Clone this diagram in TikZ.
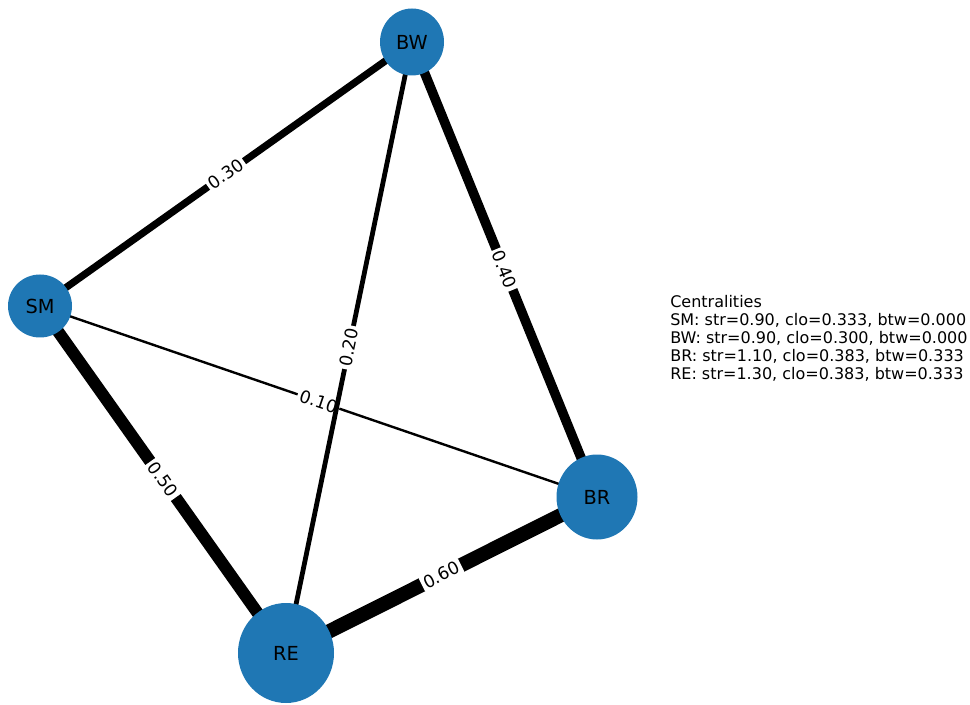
\documentclass[tikz,border=0pt]{standalone}
\usepackage{fontspec}
\setmainfont{DejaVu Sans}
\usetikzlibrary{shapes.geometric,backgrounds}
\definecolor{nodeblue}{HTML}{1F77B4}
\tikzset{
  vtx/.style={ellipse, fill=nodeblue, draw=none, inner sep=0pt, font=\fontsize{14.5}{17}\selectfont, text=black},
  wedge/.style={draw=black, line width=#1*18pt},
  elbl/.style={midway, sloped, fill=white, inner sep=2pt, rounded corners=2pt, font=\fontsize{13}{15}\selectfont, text=black}
}
\begin{document}
\begin{tikzpicture}[x=0.75pt,y=-0.75pt]
\useasboundingbox (0,0) rectangle (970,705);
\node[vtx, minimum width=64*0.75pt, minimum height=67*0.75pt] (BW) at (412,42) {BW};
\node[vtx, minimum width=64*0.75pt, minimum height=63*0.75pt] (SM) at (40,306) {SM};
\node[vtx, minimum width=81*0.75pt, minimum height=85*0.75pt] (BR) at (597,497) {BR};
\node[vtx, minimum width=96*0.75pt, minimum height=100*0.75pt] (RE) at (286,653) {RE};
\begin{pgfonlayer}{background}
\draw[wedge=0.30] (SM.center) -- (BW.center) node[elbl] {0.30};
\draw[wedge=0.10] (SM.center) -- (BR.center) node[elbl] {0.10};
\draw[wedge=0.20] (RE.center) -- (BW.center) node[elbl] {0.20};
\draw[wedge=0.40] (BW.center) -- (BR.center) node[elbl] {0.40};
\draw[wedge=0.50] (SM.center) -- (RE.center) node[elbl] {0.50};
\draw[wedge=0.60] (RE.center) -- (BR.center) node[elbl] {0.60};
\end{pgfonlayer}
\node[anchor=west, align=left, inner sep=0pt, font=\fontsize{12}{13.5}\selectfont] (legend) at (670,338)
  {Centralities\\
   SM: str=0.90, clo=0.333, btw=0.000\\
   BW: str=0.90, clo=0.300, btw=0.000\\
   BR: str=1.10, clo=0.383, btw=0.333\\
   RE: str=1.30, clo=0.383, btw=0.333};
\end{tikzpicture}
\end{document}
